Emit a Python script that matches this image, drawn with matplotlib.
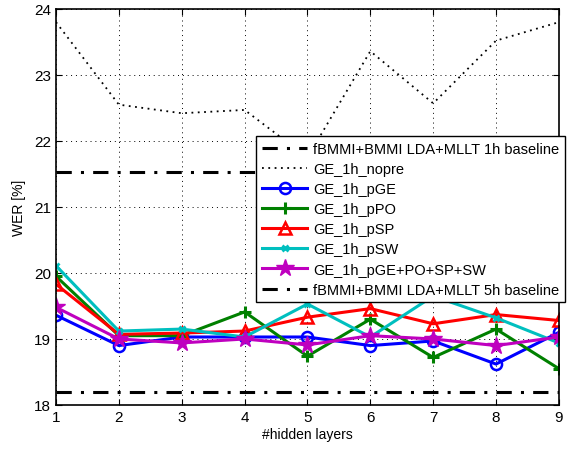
import matplotlib
matplotlib.use('Agg')
import matplotlib.pyplot as plt

plt.rcParams['font.family'] = ['Liberation Sans', 'DejaVu Sans']

layers = [1, 2, 3, 4, 5, 6, 7, 8, 9]

baseline_1h = 21.53
baseline_5h = 18.2
nopre = [23.8, 22.55, 22.42, 22.47, 21.75, 23.36, 22.57, 23.52, 23.8]
pGE = [19.36, 18.9, 19.03, 19.03, 19.03, 18.9, 18.97, 18.62, 19.1]
pPO = [19.95, 19.05, 19.05, 19.41, 18.74, 19.3, 18.72, 19.15, 18.55]
pSP = [19.83, 19.07, 19.09, 19.12, 19.33, 19.46, 19.23, 19.37, 19.28]
pSW = [20.11, 19.12, 19.15, 19.03, 19.53, 19.03, 19.65, 19.32, 18.94]
pAll = [19.48, 19.0, 18.94, 19.0, 18.91, 19.05, 19.0, 18.9, 19.03]

fig = plt.figure(figsize=(5.75, 4.52), dpi=100)
ax = fig.add_axes([0.0974, 0.1018, 0.8746, 0.8762])

dashdot = (0, (5, 3, 1, 3))
ax.plot(layers, [baseline_1h] * len(layers), color='black', lw=2.2, ls=dashdot,
        label='fBMMI+BMMI LDA+MLLT 1h baseline')
ax.plot(layers, nopre, color='black', lw=1.3, ls=(0, (1, 2.5)), label='GE_1h_nopre')
ax.plot(layers, pGE, color='#0000ff', lw=2.2, marker='o', ms=8, mfc='none', mew=1.8,
        label='GE_1h_pGE')
ax.plot(layers, pPO, color='#008000', lw=2.2, marker='+', ms=9, mew=2.2,
        label='GE_1h_pPO')
ax.plot(layers, pSP, color='#ff0000', lw=2.2, marker='^', ms=9, mfc='none', mew=1.8,
        label='GE_1h_pSP')
ax.plot(layers, pSW, color='#00bfbf', lw=2.2, marker='x', ms=5, mew=2,
        label='GE_1h_pSW')
ax.plot(layers, pAll, color='#bf00bf', lw=2.2, marker='*', ms=13,
        label='GE_1h_pGE+PO+SP+SW')
ax.plot(layers, [baseline_5h] * len(layers), color='black', lw=2.2, ls=dashdot,
        label='fBMMI+BMMI LDA+MLLT 5h baseline')

ax.set_xlim(1, 9)
ax.set_ylim(18, 24)
ax.set_xticks(layers)
ax.set_yticks([18, 19, 20, 21, 22, 23, 24])
ax.tick_params(direction='in', top=True, right=True, labelsize=11, length=4)
ax.grid(True, color='black', lw=0.7, ls=(0, (1, 4)))
for s in ax.spines.values():
    s.set_linewidth(1.2)
ax.set_xlabel('#hidden layers', fontsize=10, labelpad=2)
ax.set_ylabel('WER [%]', fontsize=10, labelpad=6)

leg = ax.legend(loc='upper right', bbox_to_anchor=(0.983, 0.697),
                bbox_transform=fig.transFigure, borderaxespad=0, fontsize=10.5,
                handlelength=3.1, handletextpad=0.4, labelspacing=0.42,
                borderpad=0.4, fancybox=False, framealpha=1, edgecolor='black')
leg.get_frame().set_linewidth(1.0)

fig.savefig('out.png', dpi=100)
